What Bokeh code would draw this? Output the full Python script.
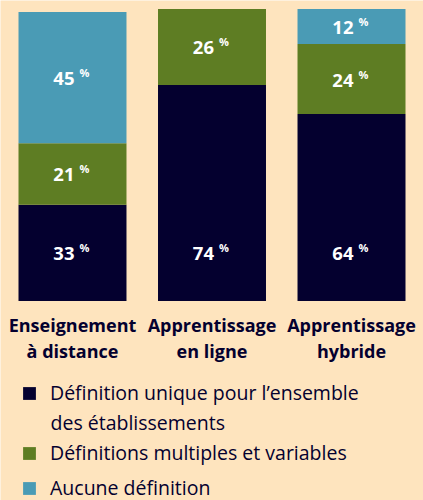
import numpy as np
from bokeh.plotting import figure
from bokeh.models import Range1d, FactorRange, Legend, LegendItem, ColumnDataSource, Label
from bokeh.core.properties import value
from bokeh.embed import file_html
from bokeh.resources import INLINE

# ---- data ----
categories = ["Enseignement à distance", "Apprentissage en ligne", "Apprentissage hybride"]
category_labels = ["Enseignement\nà distance", "Apprentissage\nen ligne", "Apprentissage\nhybride"]
unique_def = [33, 74, 64]
multiple_defs = [21, 26, 24]
no_def = [45, 0, 12]
series_keys = ["unique_def", "multiple_defs", "no_def"]
series_names = [
    "Définition unique pour l’ensemble",
    "Définitions multiples et variables",
    "Aucune définition",
]
series_name_cont = "des établissements"

# ---- styles ----
BG = "#FEE4BE"
NAVY = "#04002F"
COLORS = ["#04002F", "#5E7D23", "#4A9BB5"]
FONT = "Open Sans"
BOTTOM_LABEL_Y = 16.5   # labels of the lowest segment sit at a common height

source = ColumnDataSource(dict(cat=categories, unique_def=unique_def,
                               multiple_defs=multiple_defs, no_def=no_def))

p = figure(width=423, height=500, output_backend="svg", toolbar_location=None,
           x_range=FactorRange(*categories, range_padding=0.0107),
           y_range=Range1d(-68.32, 102.91),
           min_border=0, min_border_left=0, min_border_right=0,
           min_border_top=0, min_border_bottom=0)
p.background_fill_color = BG
p.border_fill_color = BG
p.outline_line_color = None
p.xgrid.visible = False
p.ygrid.visible = False
p.xaxis.visible = False
p.yaxis.visible = False

renderers = p.vbar_stack(series_keys, x="cat", width=0.774, source=source,
                         color=COLORS, line_color=None)

# value labels
vals = np.array([unique_def, multiple_defs, no_def], dtype=float)
bottoms = np.vstack([np.zeros(3), np.cumsum(vals, axis=0)[:-1]])
lx, ly, lt = [], [], []
for s in range(vals.shape[0]):
    for c in range(len(categories)):
        v = vals[s, c]
        if v > 0:
            lx.append(categories[c])
            ly.append(BOTTOM_LABEL_Y if s == 0 else bottoms[s, c] + v / 2)
            lt.append(str(int(v)))
lsrc = ColumnDataSource(dict(x=lx, y=ly, t=lt))
p.text(x="x", y="y", text="t", source=lsrc, text_color="white",
       text_font=value(FONT), text_font_style="bold", text_font_size="18.5px",
       text_align="right", text_baseline="middle", x_offset=2, y_offset=1)
p.text(x="x", y="y", text=value("%"), source=lsrc, text_color="white",
       text_font=value(FONT), text_font_style="bold", text_font_size="11px",
       text_align="left", text_baseline="middle", x_offset=7, y_offset=-5)

# category labels
csrc = ColumnDataSource(dict(x=categories, y=[-4.0] * 3, t=category_labels))
p.text(x="x", y="y", text="t", source=csrc, text_color=NAVY,
       text_font=value(FONT), text_font_style="bold", text_font_size="18px",
       text_align="center", text_baseline="top", text_line_height=1.1)

legend_style = dict(orientation="vertical", glyph_width=16, glyph_height=16,
                    label_standoff=13, label_text_font=FONT,
                    label_text_font_size="19.5px", label_text_color=NAVY,
                    spacing=8, padding=0, margin=0,
                    border_line_color=None, background_fill_alpha=0)
legend_top = Legend(items=[LegendItem(label=series_names[0], renderers=[renderers[0]])],
                    location=(21, 94), **legend_style)
legend_rest = Legend(items=[LegendItem(label=n, renderers=[r])
                            for n, r in zip(series_names[1:], renderers[1:])],
                     location=(21, -1), **legend_style)
p.add_layout(legend_top)
p.add_layout(legend_rest)
p.add_layout(Label(x=50, y=78, x_units="screen", y_units="screen",
                   text=series_name_cont, text_font=FONT, text_font_size="19.5px",
                   text_color=NAVY, text_baseline="middle"))

open("out.html", "w").write(file_html(p, INLINE))
